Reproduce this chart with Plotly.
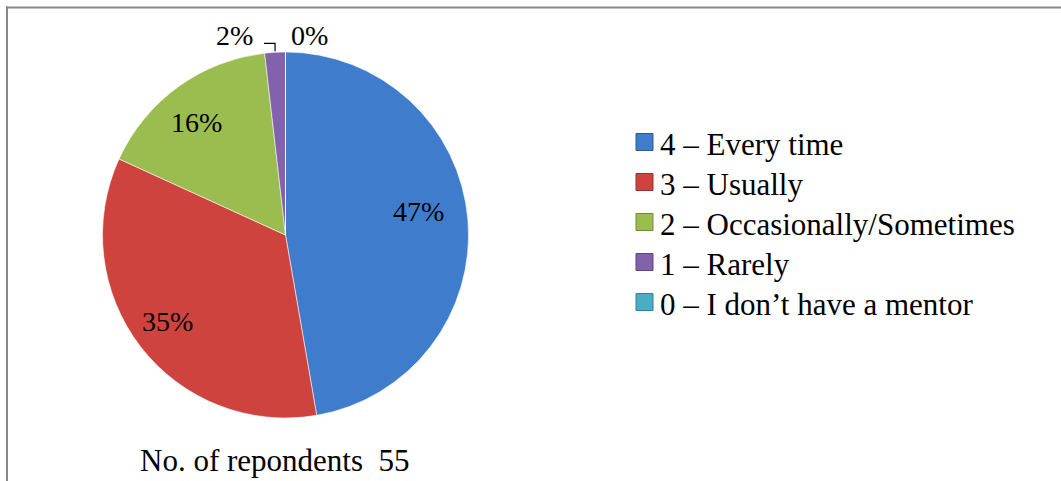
import math
import plotly.graph_objects as go

labels = ["4 – Every time", "3 – Usually", "2 – Occasionally/Sometimes",
          "1 – Rarely", "0 – I don’t have a mentor"]
counts = [26, 19, 9, 1, 0]
colors = ["#3F7DCC", "#CF433E", "#9BBC4F", "#8262AC", "#4BACC6"]
edge_colors = ["#2C5A94", "#963230", "#6F8A36", "#5C467E", "#34809A"]
title_text = "No. of repondents  55"

W, H = 1061, 481
cx, cy, R = 285.5, 235.0, 183.0  # pie centre / radius in pixels
SERIF = "Liberation Serif, Times New Roman, serif"

# label placement (style): angle in degrees clockwise from 12 o'clock, radius fraction
lbl_pos = [(79.7, 0.736), (234.0, 0.794), (321.9, 0.787)]

fig = go.Figure()
fig.add_trace(go.Pie(
    labels=labels, values=counts, sort=False, direction="clockwise", rotation=0,
    marker=dict(colors=colors, line=dict(color="rgba(255,255,255,0.55)", width=1)),
    textinfo="none", hoverinfo="label+percent", showlegend=False,
    domain=dict(x=[(cx - R) / W, (cx + R) / W], y=[1 - (cy + R) / H, 1 - (cy - R) / H]),
))

def px(x, y):
    return x / W, 1 - y / H

total = sum(counts)
pcts = [round(100 * c / total) for c in counts]
font_lbl = dict(family=SERIF, size=28, color="#000")
ann = []
mids = []
start = 0.0
for c in counts:
    frac = c / total
    mids.append((start + frac / 2) * 2 * math.pi)
    start += frac

for i, (ang, rf) in enumerate(lbl_pos):
    a = math.radians(ang)
    x, y = px(cx + rf * R * math.sin(a), cy - rf * R * math.cos(a) + 1)
    ann.append(dict(x=x, y=y, xref="paper", yref="paper", text=f"{pcts[i]}%",
                    showarrow=False, font=font_lbl, xanchor="center", yanchor="middle"))

# small slices: leader line for "1 – Rarely" label (left), zero slice label (right)
ex = cx + R * math.sin(mids[3])
ey = cy - R * math.cos(mids[3])
ly = ey - 9
x0, y0 = px(ex, ey - 1)
x1, y1 = px(ex, ly)
x2, y2 = px(ex - 11, ly)
fig.add_shape(type="path", xref="paper", yref="paper",
              path=f"M {x0} {y0} L {x1} {y1} L {x2} {y2}", line=dict(color="#000", width=1.2))
lx, lyy = px(ex - 20, ly - 8)
ann.append(dict(x=lx, y=lyy, xref="paper", yref="paper", text=f"{pcts[3]}%",
                showarrow=False, font=font_lbl, xanchor="right", yanchor="middle"))
zx = cx + R * math.sin(mids[4])
lx, lyy = px(zx + 4, ly - 8)
ann.append(dict(x=lx, y=lyy, xref="paper", yref="paper", text=f"{pcts[4]}%",
                showarrow=False, font=font_lbl, xanchor="left", yanchor="middle"))

# title below pie
tx, ty = px(274.5, 460)
ann.append(dict(x=tx, y=ty, xref="paper", yref="paper", text=title_text,
                showarrow=False, font=dict(family=SERIF, size=31, color="#000"),
                xanchor="center", yanchor="middle"))

# legend (drawn as swatches + text, Excel-like spacing)
leg_x, leg_y0, leg_gap, sw = 636, 142, 40, 17
for i, (lab, col) in enumerate(zip(labels, colors)):
    yc = leg_y0 + i * leg_gap
    a0, b0 = px(leg_x, yc - sw / 2)
    a1, b1 = px(leg_x + sw, yc + sw / 2)
    fig.add_shape(type="rect", xref="paper", yref="paper", x0=a0, y0=b0, x1=a1, y1=b1,
                  fillcolor=col, line=dict(color=edge_colors[i], width=1))
    tx, ty = px(leg_x + sw + 5, yc + 2)
    ann.append(dict(x=tx, y=ty, xref="paper", yref="paper", text=lab, showarrow=False,
                    font=dict(family=SERIF, size=31, color="#000"),
                    xanchor="left", yanchor="middle"))

# chart frame (top and left edges visible)
fig.add_shape(type="line", xref="paper", yref="paper", x0=6 / W, y0=1 - 7.5 / H, x1=1.01, y1=1 - 7.5 / H,
              line=dict(color="#888", width=2))
fig.add_shape(type="line", xref="paper", yref="paper", x0=7 / W, y0=1 - 6.5 / H, x1=7 / W, y1=-0.01,
              line=dict(color="#888", width=2))

fig.update_layout(
    width=W, height=H, margin=dict(l=0, r=0, t=0, b=0),
    paper_bgcolor="white", plot_bgcolor="white",
    annotations=ann, showlegend=False,
)
fig.write_html("out.html", config={"displayModeBar": False},
               post_script="document.body.style.margin='0';document.body.style.overflow='hidden';")
